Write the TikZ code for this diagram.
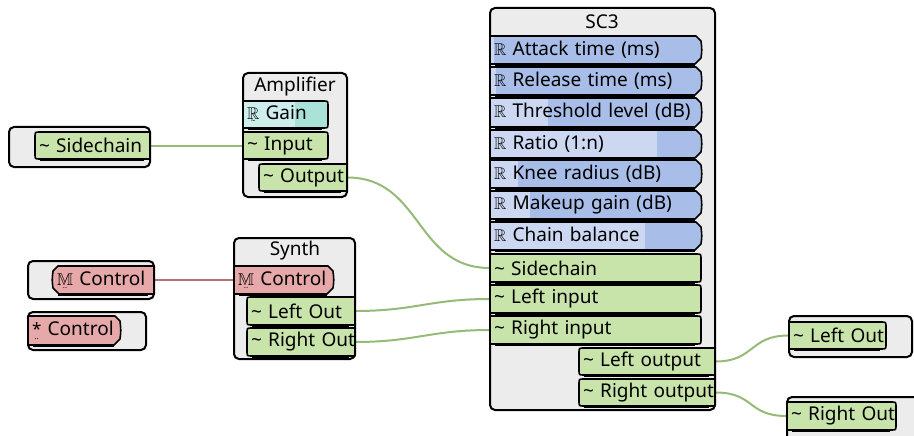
\documentclass[tikz,border=0pt]{standalone}
\usepackage{amssymb}
\usepackage{fontspec}
\setmainfont{Noto Sans}
\usetikzlibrary{backgrounds}

\definecolor{boxfill}{RGB}{236,236,236}
\definecolor{greenport}{RGB}{200,228,170}
\definecolor{redport}{RGB}{230,168,168}
\definecolor{blueD}{RGB}{168,190,232}
\definecolor{blueL}{RGB}{204,216,242}
\definecolor{cyanD}{RGB}{170,226,218}
\definecolor{cyanL}{RGB}{206,238,238}
\definecolor{wireG}{RGB}{150,186,120}
\definecolor{wireR}{RGB}{184,112,112}

\newcommand\portfont{\fontsize{19}{22}\selectfont}
\newcommand\wv{\textasciitilde}
% type glyph with a small mark set underneath
\newcommand\dsym[2]{\leavevmode\hbox{\ooalign{\hfil{\fontsize{17}{17}\selectfont #1}\hfil\cr
  \hfil\raisebox{-0.35ex}{\fontsize{8}{8}\selectfont #2}\hfil\cr}}}

\tikzset{
  x=1pt, y=-1pt,
  modbox/.style={draw=black, fill=boxfill, line width=2pt, rounded corners=5pt},
  portline/.style={draw=black, line width=1.6pt, line join=round},
  shadowline/.style={black, line width=1.4pt},
  wire/.style={wireG, line width=2pt},
  ctlwire/.style={wireR, line width=2pt},
  lbl/.style={inner xsep=4pt, inner ysep=0pt, align=left, font=\portfont},
  ttl/.style={inner sep=0pt, font=\portfont},
  % left edge square, right end rounded
  shRR/.style n args={4}{insert path={(#1,#2) -- ({#3-5},#2) .. controls (#3,#2) .. (#3,{#2+5})
     -- (#3,{#4-5}) .. controls (#3,#4) .. ({#3-5},#4) -- (#1,#4) -- cycle}},
  % left end rounded, right edge square
  shLR/.style n args={4}{insert path={(#3,#2) -- ({#1+5},#2) .. controls (#1,#2) .. (#1,{#2+5})
     -- (#1,{#4-5}) .. controls (#1,#4) .. ({#1+5},#4) -- (#3,#4) -- cycle}},
  % value port: right end cut off at the corners
  shPR/.style n args={4}{insert path={(#1,#2) -- ({#3-5},#2) -- (#3,{#2+5})
     .. controls ({#3+1},{(#2+#4)/2}) .. (#3,{#4-6}) -- ({#3-6},#4) -- (#1,#4) -- cycle}},
  shPL/.style n args={4}{insert path={(#3,#2) -- ({#1+5},#2) -- (#1,{#2+5})
     .. controls ({#1-1},{(#2+#4)/2}) .. (#1,{#4-6}) -- ({#1+6},#4) -- (#3,#4) -- cycle}},
}

% name, x1, y1, x2, y2, shape, fill, label
\newcommand\port[8]{%
  \path[portline, fill=#7, #6={#2}{#3}{#4}{#5}];
  \draw[shadowline] ({#2+5},{#5+1}) -- ({#4-6},{#5+1});
  \pgfmathsetmacro\tw{#4-#2-8}%
  \node[lbl, text width=\tw pt] (#1) at ({(#2+#4)/2},{(#3+#5)/2}) {\mbox{#8}};
}
% name, x1, y1, x2, y2, shape, colour pair, split x, label
\newcommand\tport[9]{%
  \begin{scope}
    \clip[#6={#2}{#3}{#4}{#5}];
    \fill[#7D] (#2,#3) rectangle (#4,#5);
    \fill[#7L] (#2,#3) rectangle (#8,#5);
  \end{scope}
  \path[portline, #6={#2}{#3}{#4}{#5}];
  \draw[shadowline] ({#2+5},{#5+1}) -- ({#4-6},{#5+1});
  \pgfmathsetmacro\tw{#4-#2-8}%
  \node[lbl, text width=\tw pt] (#1) at ({(#2+#4)/2},{(#3+#5)/2}) {\mbox{#9}};
}

\begin{document}
\begin{tikzpicture}
\clip (0,0) rectangle (914,436);

% ---------- module frames ----------
\path[modbox] (9,127) rectangle (150,167);
\path[modbox] (243,73) rectangle (347,197);
\path[modbox] (234,238) rectangle (355,359);
\path[modbox] (28,261) rectangle (154,299);
\path[modbox] (28,312) rectangle (146,350);
\path[modbox] (490,8) rectangle (715,410);
\path[modbox] (789,316) rectangle (912,357);
\path[modbox] (787,397) rectangle (940,460);

% ---------- titles ----------
\node[ttl] (ampT) at (295,87) {Amplifier};
\node[ttl] (synT) at (295,251) {Synth};
\node[ttl] (scT) at (602,22) {SC3};

% ---------- ports ----------
\port{srcSide}{35}{132}{150}{159}{shLR}{greenport}{\wv{} Sidechain}

\tport{ampGain}{243}{101}{328}{128}{shRR}{cyan}{295}{\dsym{$\mathbb{R}$}{\wv} Gain}
\port{ampIn}{243}{132}{328}{159}{shRR}{greenport}{\wv{} Input}
\port{ampOut}{259}{164}{347}{191}{shLR}{greenport}{\wv{} Output}

\port{synCtl}{234}{266}{333}{294}{shPR}{redport}{\dsym{$\mathbb{M}$}{..} Control}
\port{synL}{247}{297}{355}{325}{shLR}{greenport}{\wv{} Left Out}
\port{synR}{247}{328}{355}{356}{shLR}{greenport}{\wv{} Right Out}

\port{mSrc}{53}{266}{154}{294}{shPL}{redport}{\dsym{$\mathbb{M}$}{..} Control}
\port{starCtl}{28}{316}{120}{345}{shPR}{redport}{\dsym{*}{..} Control}

\tport{scAtk}{490}{36}{701}{64}{shPR}{blue}{494}{\dsym{$\mathbb{R}$}{} Attack time (ms)}
\tport{scRel}{490}{67}{701}{95}{shPR}{blue}{496}{\dsym{$\mathbb{R}$}{} Release time (ms)}
\tport{scThr}{490}{98}{701}{127}{shPR}{blue}{548}{\dsym{$\mathbb{R}$}{} Threshold level (dB)}
\tport{scRat}{490}{130}{701}{158}{shPR}{blue}{657}{\dsym{$\mathbb{R}$}{} Ratio (1:n)}
\tport{scKnee}{490}{160}{701}{188}{shPR}{blue}{518}{\dsym{$\mathbb{R}$}{} Knee radius (dB)}
\tport{scMk}{490}{191}{701}{219}{shPR}{blue}{530}{\dsym{$\mathbb{R}$}{} Makeup gain (dB)}
\tport{scBal}{490}{222}{701}{250}{shPR}{blue}{645}{\dsym{$\mathbb{R}$}{} Chain balance}
\port{scSide}{490}{254}{701}{282}{shRR}{greenport}{\wv{} Sidechain}
\port{scL}{490}{285}{701}{313}{shRR}{greenport}{\wv{} Left input}
\port{scR}{490}{316}{701}{344}{shRR}{greenport}{\wv{} Right input}
\port{scLO}{579}{348}{715}{375}{shLR}{greenport}{\wv{} Left output}
\port{scRO}{579}{379}{715}{406}{shLR}{greenport}{\wv{} Right output}

\port{sinkL}{789}{322}{886}{349}{shRR}{greenport}{\wv{} Left Out}
\port{sinkR}{787}{402}{896}{430}{shRR}{greenport}{\wv{} Right Out}

% ---------- connections (behind the modules) ----------
\begin{pgfonlayer}{background}
\fill[white] (0,0) rectangle (914,436);
\draw[wire] (srcSide.east) -- (ampIn.west);
\draw[wire] (ampOut.east) .. controls +(75,0) and +(-75,0) .. (scSide.west);
\draw[ctlwire] (mSrc.east) .. controls +(45,0) and +(-45,0) .. (synCtl.west);
\draw[wire] (synL.east) .. controls +(60,0) and +(-60,0) .. (scL.west);
\draw[wire] (synR.east) .. controls +(60,0) and +(-60,0) .. (scR.west);
\draw[wire] (scLO.east) .. controls +(40,0) and +(-40,0) .. (sinkL.west);
\draw[wire] (scRO.east) .. controls +(40,0) and +(-40,0) .. (sinkR.west);
\end{pgfonlayer}
\end{tikzpicture}
\end{document}
